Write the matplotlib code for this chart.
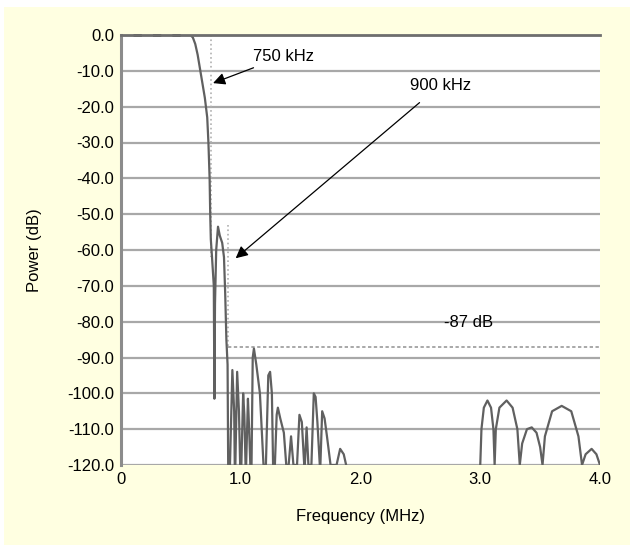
import matplotlib
matplotlib.use("Agg")
import matplotlib.pyplot as plt
from matplotlib.patches import Rectangle

plt.rcParams['font.family'] = ['Liberation Sans', 'DejaVu Sans']

# filter response (MHz, dB)
freq = [0.0, 0.58, 0.60, 0.62, 0.64, 0.66, 0.68, 0.70, 0.72, 0.73, 0.74, 0.745, 0.75, 0.76,
        0.775, 0.78, 0.785, 0.795, 0.81, 0.825, 0.845, 0.86, 0.87, 0.88, 0.89, 0.895,
        0.91, 0.93, 0.945, 0.95,
        0.955, 0.97, 0.985, 0.995,
        1.005, 1.02, 1.03, 1.04,
        1.045, 1.06, 1.07, 1.08,
        1.09, 1.10, 1.11, 1.13, 1.16, 1.19,
        1.21, 1.23, 1.245, 1.26, 1.27,
        1.285, 1.30, 1.31, 1.33, 1.36, 1.38,
        1.40, 1.42, 1.44,
        1.47, 1.49, 1.51, 1.53,
        1.535, 1.55, 1.565,
        1.59, 1.61, 1.625, 1.64, 1.66,
        1.665, 1.68, 1.70, 1.72, 1.75,
        1.80, 1.83, 1.86, 1.88,
        1.90, 3.00,
        3.00, 3.01, 3.03, 3.06, 3.09, 3.11, 3.12,
        3.13, 3.16, 3.22, 3.27, 3.31, 3.33,
        3.35, 3.39, 3.43, 3.47, 3.50, 3.52,
        3.54, 3.60, 3.68, 3.76, 3.82, 3.85,
        3.88, 3.93, 3.97, 4.0]
power = [0, 0, -0.7, -2.5, -5.5, -9.5, -13.5, -17.5, -23, -30, -40, -50, -57, -62,
         -70, -101.5, -75, -60, -53.5, -56, -58, -62, -72, -85, -92, -120,
         -120, -93.5, -105, -120,
         -120, -94, -105, -120,
         -120, -100, -106, -120,
         -120, -101.5, -110, -120,
         -120, -90, -87.5, -92, -100, -120,
         -120, -95, -94, -100, -120,
         -120, -106, -104, -107, -111, -120,
         -120, -112, -120,
         -120, -106, -108, -120,
         -120, -109.5, -120,
         -120, -100, -101, -108, -120,
         -120, -105, -107, -112, -120,
         -120, -115.5, -117, -120,
         -125, -125,
         -120, -110, -104, -102, -104, -110, -120,
         -110, -104, -102, -104, -110, -120,
         -114, -110, -109.5, -111, -115, -120,
         -112, -105, -103.5, -105, -112, -120,
         -117, -115.5, -117, -120]

floor_db = -87
f_750 = 0.75
f_900 = 0.89

yticks = list(range(0, -121, -10))
xticks = [0, 1, 2, 3, 4]
xtick_labels = ['0', '1.0', '2.0', '3.0', '4.0']

bg = '#ffffe1'
fs = 12

fig = plt.figure(figsize=(6.3, 5.45), dpi=100, facecolor='white')
fig.patches.append(Rectangle((4 / 630, 0), 1, (545 - 7) / 545, transform=fig.transFigure,
                             facecolor=bg, edgecolor='none', zorder=-10))
ax = fig.add_axes([121 / 630, 80 / 545, 479 / 630, 430 / 545])
ax.set_facecolor('white')

ax.set_xlim(0, 4)
ax.set_ylim(-120, 0)
ax.set_yticks(yticks)
ax.set_yticklabels([f"{v:.1f}" for v in yticks])
ax.set_xticks(xticks)
ax.set_xticklabels(xtick_labels)
ax.tick_params(length=0, labelsize=fs, pad=5)
ax.yaxis.grid(True, color='#a8a8a8', linewidth=1.6)
ax.set_axisbelow(True)

for side in ['right', 'bottom']:
    ax.spines[side].set_visible(False)
ax.spines['top'].set_color('#6e6e6e')
ax.spines['top'].set_linewidth(2)
ax.spines['left'].set_color('#8c8c8c')
ax.spines['left'].set_linewidth(2.2)

# marker lines
ax.plot([f_750, f_750], [0, -62], color='#b0b0b0', linestyle=':', linewidth=1.2)
ax.plot([f_900, f_900], [-53, floor_db], color='#b0b0b0', linestyle=':', linewidth=1.2)
ax.plot([f_900, 4.0], [floor_db, floor_db], color='#9a9a9a', linestyle=(0, (2, 1.5)), linewidth=1.2)

ax.plot(freq, power, color='#606060', linewidth=1.6, clip_on=True)
ax.plot([0.1, 0.58], [0, 0], color='#333333', linewidth=2, linestyle=(0, (3, 4)), clip_on=False)

ax.annotate('750 kHz', xy=(0.747, -13.7), xytext=(1.10, -6.0), fontsize=fs,
            ha='left', va='center',
            arrowprops=dict(arrowstyle='-|>', color='black', lw=0.9, mutation_scale=18,
                            shrinkA=2))
ax.annotate('900 kHz', xy=(0.94, -62.8), xytext=(2.41, -14.0), fontsize=fs,
            ha='left', va='center',
            arrowprops=dict(arrowstyle='-|>', color='black', lw=0.9, mutation_scale=18,
                            shrinkA=8))
ax.text(2.9, -80.3, '-87 dB', fontsize=fs, ha='center', va='center')

ax.set_xlabel('Frequency (MHz)', fontsize=fs, labelpad=16)
ax.set_ylabel('Power (dB)', fontsize=fs, labelpad=18)

fig.savefig('out.png', dpi=100, facecolor=fig.get_facecolor())
